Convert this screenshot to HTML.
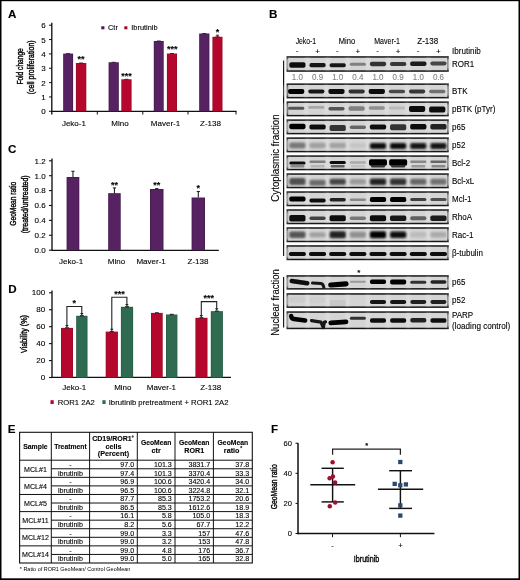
<!DOCTYPE html>
<html><head><meta charset="utf-8"><style>
html,body{margin:0;padding:0;background:#fff;}
#w{position:relative;width:520px;height:580px;overflow:hidden;background:#fff;}
svg{position:absolute;left:0;top:0;will-change:transform;}
svg text{font-family:"Liberation Sans", sans-serif;stroke:#1a1a1a;stroke-width:0.12px;paint-order:stroke;}
</style></head><body><div id="w">
<svg width="520" height="580" viewBox="0 0 520 580">
<rect x="0" y="0" width="520" height="580" fill="#fff"/>
<text x="7.90" y="17.60" font-size="11.6" font-weight="bold" style="fill:#000;stroke:#000">A</text>
<text x="269.00" y="17.90" font-size="11.6" font-weight="bold" style="fill:#000;stroke:#000">B</text>
<text x="7.90" y="153.40" font-size="11.6" font-weight="bold" style="fill:#000;stroke:#000">C</text>
<text x="8.20" y="292.60" font-size="11.6" font-weight="bold" style="fill:#000;stroke:#000">D</text>
<text x="7.70" y="433.10" font-size="11.6" font-weight="bold" style="fill:#000;stroke:#000">E</text>
<text x="270.90" y="432.70" font-size="11.6" font-weight="bold" style="fill:#000;stroke:#000">F</text>
<line x1="51.80" y1="22.80" x2="51.80" y2="114.50" stroke="#111" stroke-width="1.35"/>
<line x1="51.20" y1="111.30" x2="236.50" y2="111.30" stroke="#111" stroke-width="1.35"/>
<line x1="49.00" y1="111.30" x2="52.00" y2="111.30" stroke="#111" stroke-width="1"/>
<text x="45.80" y="114.30" font-size="8" text-anchor="end">0</text>
<line x1="49.00" y1="96.95" x2="52.00" y2="96.95" stroke="#111" stroke-width="1"/>
<text x="45.80" y="99.95" font-size="8" text-anchor="end">1</text>
<line x1="49.00" y1="82.60" x2="52.00" y2="82.60" stroke="#111" stroke-width="1"/>
<text x="45.80" y="85.60" font-size="8" text-anchor="end">2</text>
<line x1="49.00" y1="68.25" x2="52.00" y2="68.25" stroke="#111" stroke-width="1"/>
<text x="45.80" y="71.25" font-size="8" text-anchor="end">3</text>
<line x1="49.00" y1="53.90" x2="52.00" y2="53.90" stroke="#111" stroke-width="1"/>
<text x="45.80" y="56.90" font-size="8" text-anchor="end">4</text>
<line x1="49.00" y1="39.55" x2="52.00" y2="39.55" stroke="#111" stroke-width="1"/>
<text x="45.80" y="42.55" font-size="8" text-anchor="end">5</text>
<line x1="49.00" y1="25.20" x2="52.00" y2="25.20" stroke="#111" stroke-width="1"/>
<text x="45.80" y="28.20" font-size="8" text-anchor="end">6</text>
<line x1="97.30" y1="111.30" x2="97.30" y2="114.50" stroke="#111" stroke-width="1"/>
<line x1="142.80" y1="111.30" x2="142.80" y2="114.50" stroke="#111" stroke-width="1"/>
<line x1="188.00" y1="111.30" x2="188.00" y2="114.50" stroke="#111" stroke-width="1"/>
<line x1="236.00" y1="111.30" x2="236.00" y2="114.50" stroke="#111" stroke-width="1"/>
<rect x="63.20" y="53.60" width="9.90" height="57.70" fill="#44194e"/>
<rect x="63.90" y="54.20" width="8.50" height="57.10" fill="#562262"/>
<rect x="75.90" y="63.00" width="10.40" height="48.30" fill="#941027"/>
<rect x="76.60" y="63.60" width="9.00" height="47.70" fill="#b5062d"/>
<line x1="66.15" y1="53.60" x2="70.15" y2="53.60" stroke="#3a1040" stroke-width="0.9"/>
<line x1="79.10" y1="63.00" x2="83.10" y2="63.00" stroke="#5a0818" stroke-width="0.9"/>
<rect x="108.60" y="62.30" width="10.20" height="49.00" fill="#44194e"/>
<rect x="109.30" y="62.90" width="8.80" height="48.40" fill="#562262"/>
<rect x="121.30" y="79.30" width="10.30" height="32.00" fill="#941027"/>
<rect x="122.00" y="79.90" width="8.90" height="31.40" fill="#b5062d"/>
<line x1="111.70" y1="62.30" x2="115.70" y2="62.30" stroke="#3a1040" stroke-width="0.9"/>
<line x1="124.45" y1="79.30" x2="128.45" y2="79.30" stroke="#5a0818" stroke-width="0.9"/>
<rect x="153.80" y="41.00" width="9.90" height="70.30" fill="#44194e"/>
<rect x="154.50" y="41.60" width="8.50" height="69.70" fill="#562262"/>
<rect x="166.90" y="53.50" width="10.10" height="57.80" fill="#941027"/>
<rect x="167.60" y="54.10" width="8.70" height="57.20" fill="#b5062d"/>
<line x1="156.75" y1="41.00" x2="160.75" y2="41.00" stroke="#3a1040" stroke-width="0.9"/>
<line x1="169.95" y1="53.50" x2="173.95" y2="53.50" stroke="#5a0818" stroke-width="0.9"/>
<rect x="199.20" y="33.50" width="10.20" height="77.80" fill="#44194e"/>
<rect x="199.90" y="34.10" width="8.80" height="77.20" fill="#562262"/>
<rect x="212.40" y="36.80" width="10.10" height="74.50" fill="#941027"/>
<rect x="213.10" y="37.40" width="8.70" height="73.90" fill="#b5062d"/>
<line x1="202.30" y1="33.50" x2="206.30" y2="33.50" stroke="#3a1040" stroke-width="0.9"/>
<line x1="215.45" y1="36.80" x2="219.45" y2="36.80" stroke="#5a0818" stroke-width="0.9"/>
<line x1="217.50" y1="36.80" x2="217.50" y2="35.20" stroke="#333" stroke-width="1"/>
<line x1="215.90" y1="35.20" x2="219.10" y2="35.20" stroke="#333" stroke-width="1"/>
<text x="80.90" y="62.10" font-size="9" text-anchor="middle" font-weight="bold">**</text>
<text x="126.50" y="79.10" font-size="9" text-anchor="middle" font-weight="bold">***</text>
<text x="172.20" y="52.40" font-size="9" text-anchor="middle" font-weight="bold">***</text>
<text x="217.40" y="34.70" font-size="9" text-anchor="middle" font-weight="bold">*</text>
<rect x="101.30" y="26.30" width="3.10" height="3.00" fill="#421a4d"/>
<text x="108.00" y="29.80" font-size="7.6" textLength="9.90" lengthAdjust="spacingAndGlyphs">Ctr</text>
<rect x="124.30" y="26.30" width="3.10" height="3.00" fill="#9a0a28"/>
<text x="131.30" y="29.80" font-size="7.6" textLength="26.30" lengthAdjust="spacingAndGlyphs">Ibrutinib</text>
<text x="73.90" y="126.30" font-size="8" text-anchor="middle">Jeko-1</text>
<text x="120.00" y="126.30" font-size="8" text-anchor="middle">Mino</text>
<text x="165.50" y="126.30" font-size="8" text-anchor="middle">Maver-1</text>
<text x="210.50" y="126.30" font-size="8" text-anchor="middle">Z-138</text>
<text x="22.90" y="66.40" font-size="8.8" text-anchor="middle" textLength="36.40" lengthAdjust="spacingAndGlyphs" transform="rotate(-90 22.90 66.40)" style="stroke-width:0.42px">Fold change</text>
<text x="34.50" y="67.30" font-size="9.0" text-anchor="middle" textLength="54.00" lengthAdjust="spacingAndGlyphs" transform="rotate(-90 34.50 67.30)" style="stroke-width:0.42px">(cell proliferation)</text>
<line x1="52.00" y1="158.40" x2="52.00" y2="250.20" stroke="#111" stroke-width="1.35"/>
<line x1="51.40" y1="250.40" x2="218.80" y2="250.40" stroke="#111" stroke-width="1.35"/>
<line x1="49.00" y1="250.20" x2="52.00" y2="250.20" stroke="#111" stroke-width="1.1"/>
<text x="45.60" y="253.00" font-size="8" text-anchor="end">0.0</text>
<line x1="49.00" y1="235.30" x2="52.00" y2="235.30" stroke="#111" stroke-width="1.1"/>
<text x="45.60" y="238.10" font-size="8" text-anchor="end">0.2</text>
<line x1="49.00" y1="220.40" x2="52.00" y2="220.40" stroke="#111" stroke-width="1.1"/>
<text x="45.60" y="223.20" font-size="8" text-anchor="end">0.4</text>
<line x1="49.00" y1="205.50" x2="52.00" y2="205.50" stroke="#111" stroke-width="1.1"/>
<text x="45.60" y="208.30" font-size="8" text-anchor="end">0.6</text>
<line x1="49.00" y1="190.60" x2="52.00" y2="190.60" stroke="#111" stroke-width="1.1"/>
<text x="45.60" y="193.40" font-size="8" text-anchor="end">0.8</text>
<line x1="49.00" y1="175.70" x2="52.00" y2="175.70" stroke="#111" stroke-width="1.1"/>
<text x="45.60" y="178.50" font-size="8" text-anchor="end">1.0</text>
<line x1="49.00" y1="160.80" x2="52.00" y2="160.80" stroke="#111" stroke-width="1.1"/>
<text x="45.60" y="163.60" font-size="8" text-anchor="end">1.2</text>
<rect x="66.60" y="177.00" width="12.70" height="73.20" fill="#44194e"/>
<rect x="67.30" y="177.60" width="11.30" height="72.60" fill="#562262"/>
<line x1="72.95" y1="177.00" x2="72.95" y2="171.30" stroke="#222" stroke-width="1.1"/>
<line x1="71.35" y1="171.30" x2="74.55" y2="171.30" stroke="#222" stroke-width="1.1"/>
<rect x="108.20" y="193.20" width="12.50" height="57.00" fill="#44194e"/>
<rect x="108.90" y="193.80" width="11.10" height="56.40" fill="#562262"/>
<line x1="114.45" y1="193.20" x2="114.45" y2="187.90" stroke="#222" stroke-width="1.1"/>
<line x1="112.85" y1="187.90" x2="116.05" y2="187.90" stroke="#222" stroke-width="1.1"/>
<rect x="150.00" y="189.00" width="13.50" height="61.20" fill="#44194e"/>
<rect x="150.70" y="189.60" width="12.10" height="60.60" fill="#562262"/>
<line x1="156.75" y1="189.00" x2="156.75" y2="188.60" stroke="#222" stroke-width="1.1"/>
<line x1="155.15" y1="188.60" x2="158.35" y2="188.60" stroke="#222" stroke-width="1.1"/>
<rect x="191.60" y="197.50" width="13.40" height="52.70" fill="#44194e"/>
<rect x="192.30" y="198.10" width="12.00" height="52.10" fill="#562262"/>
<line x1="198.30" y1="197.50" x2="198.30" y2="191.50" stroke="#222" stroke-width="1.1"/>
<line x1="196.70" y1="191.50" x2="199.90" y2="191.50" stroke="#222" stroke-width="1.1"/>
<text x="114.50" y="188.10" font-size="9" text-anchor="middle" font-weight="bold">**</text>
<text x="156.80" y="188.10" font-size="9" text-anchor="middle" font-weight="bold">**</text>
<text x="198.30" y="191.10" font-size="9" text-anchor="middle" font-weight="bold">*</text>
<text x="71.10" y="264.40" font-size="8" text-anchor="middle">Jeko-1</text>
<text x="116.50" y="264.40" font-size="8" text-anchor="middle">Mino</text>
<text x="151.10" y="264.40" font-size="8" text-anchor="middle">Maver-1</text>
<text x="198.00" y="264.40" font-size="8" text-anchor="middle">Z-138</text>
<text x="15.70" y="203.70" font-size="8.8" text-anchor="middle" textLength="44.00" lengthAdjust="spacingAndGlyphs" transform="rotate(-90 15.70 203.70)" style="stroke-width:0.42px">GeoMean ratio</text>
<text x="28.40" y="204.30" font-size="8.6" text-anchor="middle" textLength="58.00" lengthAdjust="spacingAndGlyphs" transform="rotate(-90 28.40 204.30)" style="stroke-width:0.42px">(treated/untreated)</text>
<line x1="52.00" y1="290.50" x2="52.00" y2="377.30" stroke="#111" stroke-width="1.35"/>
<line x1="51.40" y1="377.30" x2="231.00" y2="377.30" stroke="#111" stroke-width="1.35"/>
<line x1="49.00" y1="377.50" x2="52.00" y2="377.50" stroke="#111" stroke-width="1.1"/>
<text x="45.20" y="380.10" font-size="8" text-anchor="end">0</text>
<line x1="49.00" y1="360.56" x2="52.00" y2="360.56" stroke="#111" stroke-width="1.1"/>
<text x="45.20" y="363.16" font-size="8" text-anchor="end">20</text>
<line x1="49.00" y1="343.62" x2="52.00" y2="343.62" stroke="#111" stroke-width="1.1"/>
<text x="45.20" y="346.22" font-size="8" text-anchor="end">40</text>
<line x1="49.00" y1="326.68" x2="52.00" y2="326.68" stroke="#111" stroke-width="1.1"/>
<text x="45.20" y="329.28" font-size="8" text-anchor="end">60</text>
<line x1="49.00" y1="309.74" x2="52.00" y2="309.74" stroke="#111" stroke-width="1.1"/>
<text x="45.20" y="312.34" font-size="8" text-anchor="end">80</text>
<line x1="49.00" y1="292.80" x2="52.00" y2="292.80" stroke="#111" stroke-width="1.1"/>
<text x="45.20" y="295.40" font-size="8" text-anchor="end">100</text>
<rect x="61.00" y="327.90" width="12.00" height="49.60" fill="#941027"/>
<rect x="61.70" y="328.50" width="10.60" height="49.00" fill="#b5062d"/>
<rect x="76.20" y="315.80" width="11.30" height="61.70" fill="#275a43"/>
<rect x="76.90" y="316.40" width="9.90" height="61.10" fill="#2f6b50"/>
<line x1="65.10" y1="327.90" x2="68.90" y2="327.90" stroke="#2a2a2a" stroke-width="1.4"/>
<line x1="79.95" y1="315.80" x2="83.75" y2="315.80" stroke="#2a2a2a" stroke-width="1.4"/>
<rect x="105.70" y="331.60" width="12.20" height="45.90" fill="#941027"/>
<rect x="106.40" y="332.20" width="10.80" height="45.30" fill="#b5062d"/>
<rect x="120.90" y="306.80" width="12.20" height="70.70" fill="#275a43"/>
<rect x="121.60" y="307.40" width="10.80" height="70.10" fill="#2f6b50"/>
<line x1="109.90" y1="331.60" x2="113.70" y2="331.60" stroke="#2a2a2a" stroke-width="1.4"/>
<line x1="125.10" y1="306.80" x2="128.90" y2="306.80" stroke="#2a2a2a" stroke-width="1.4"/>
<rect x="151.00" y="312.90" width="11.70" height="64.60" fill="#941027"/>
<rect x="151.70" y="313.50" width="10.30" height="64.00" fill="#b5062d"/>
<rect x="166.00" y="314.50" width="11.40" height="63.00" fill="#275a43"/>
<rect x="166.70" y="315.10" width="10.00" height="62.40" fill="#2f6b50"/>
<line x1="154.95" y1="312.90" x2="158.75" y2="312.90" stroke="#2a2a2a" stroke-width="1.4"/>
<line x1="169.80" y1="314.50" x2="173.60" y2="314.50" stroke="#2a2a2a" stroke-width="1.4"/>
<rect x="195.40" y="317.80" width="12.10" height="59.70" fill="#941027"/>
<rect x="196.10" y="318.40" width="10.70" height="59.10" fill="#b5062d"/>
<rect x="210.80" y="311.20" width="12.10" height="66.30" fill="#275a43"/>
<rect x="211.50" y="311.80" width="10.70" height="65.70" fill="#2f6b50"/>
<line x1="199.55" y1="317.80" x2="203.35" y2="317.80" stroke="#2a2a2a" stroke-width="1.4"/>
<line x1="214.95" y1="311.20" x2="218.75" y2="311.20" stroke="#2a2a2a" stroke-width="1.4"/>
<path d="M66.90 325.70 V306.50 H81.80 V313.60" fill="none" stroke="#222" stroke-width="1.1"/>
<path d="M80.10 312.90 L83.50 312.90 L81.80 315.40 Z" fill="#222"/>
<path d="M65.20 325.00 L68.60 325.00 L66.90 327.50 Z" fill="#222"/>
<path d="M111.80 329.40 V297.20 H126.90 V304.60" fill="none" stroke="#222" stroke-width="1.1"/>
<path d="M125.20 303.90 L128.60 303.90 L126.90 306.40 Z" fill="#222"/>
<path d="M110.10 328.70 L113.50 328.70 L111.80 331.20 Z" fill="#222"/>
<path d="M201.30 315.60 V301.60 H216.70 V309.00" fill="none" stroke="#222" stroke-width="1.1"/>
<path d="M215.00 308.30 L218.40 308.30 L216.70 310.80 Z" fill="#222"/>
<path d="M199.60 314.90 L203.00 314.90 L201.30 317.40 Z" fill="#222"/>
<text x="74.30" y="305.90" font-size="9" text-anchor="middle" font-weight="bold">*</text>
<text x="119.40" y="296.50" font-size="9" text-anchor="middle" font-weight="bold">***</text>
<text x="208.80" y="300.90" font-size="9" text-anchor="middle" font-weight="bold">***</text>
<text x="74.30" y="389.70" font-size="8" text-anchor="middle">Jeko-1</text>
<text x="122.80" y="389.70" font-size="8" text-anchor="middle">Mino</text>
<text x="161.40" y="389.70" font-size="8" text-anchor="middle">Maver-1</text>
<text x="210.70" y="389.70" font-size="8" text-anchor="middle">Z-138</text>
<rect x="50.50" y="400.20" width="3.20" height="3.80" fill="#b5062d"/>
<text x="57.70" y="404.50" font-size="8" textLength="37.10" lengthAdjust="spacingAndGlyphs">ROR1 2A2</text>
<rect x="102.40" y="400.20" width="3.20" height="3.80" fill="#2f6b50"/>
<text x="108.70" y="404.50" font-size="8" textLength="119.80" lengthAdjust="spacingAndGlyphs">Ibrutinib pretreatment + ROR1 2A2</text>
<text x="26.60" y="334.00" font-size="8.8" text-anchor="middle" textLength="38.00" lengthAdjust="spacingAndGlyphs" transform="rotate(-90 26.60 334.00)" style="stroke-width:0.42px">Viability (%)</text>
<text x="305.90" y="44.00" font-size="8.5" text-anchor="middle" textLength="20.40" lengthAdjust="spacingAndGlyphs">Jeko-1</text>
<text x="347.00" y="44.00" font-size="8.5" text-anchor="middle" textLength="16.40" lengthAdjust="spacingAndGlyphs">Mino</text>
<text x="387.10" y="44.00" font-size="8.5" text-anchor="middle" textLength="25.80" lengthAdjust="spacingAndGlyphs">Maver-1</text>
<text x="427.70" y="44.00" font-size="8.5" text-anchor="middle" textLength="20.80" lengthAdjust="spacingAndGlyphs">Z-138</text>
<text x="297.10" y="52.90" font-size="8" text-anchor="middle">-</text>
<text x="317.55" y="54.40" font-size="8" text-anchor="middle">+</text>
<text x="337.40" y="52.90" font-size="8" text-anchor="middle">-</text>
<text x="357.85" y="54.40" font-size="8" text-anchor="middle">+</text>
<text x="377.70" y="52.90" font-size="8" text-anchor="middle">-</text>
<text x="398.15" y="54.40" font-size="8" text-anchor="middle">+</text>
<text x="418.00" y="52.90" font-size="8" text-anchor="middle">-</text>
<text x="438.45" y="54.40" font-size="8" text-anchor="middle">+</text>
<text x="452.00" y="53.60" font-size="8.8" textLength="28.80" lengthAdjust="spacingAndGlyphs">Ibrutinib</text>
<line x1="283.60" y1="60.40" x2="283.60" y2="256.00" stroke="#111" stroke-width="1.2"/>
<line x1="283.60" y1="277.00" x2="283.60" y2="327.40" stroke="#111" stroke-width="1.2"/>
<text x="279.00" y="158.00" font-size="10.3" text-anchor="middle" textLength="87.30" lengthAdjust="spacingAndGlyphs" transform="rotate(-90 279.00 158.00)">Cytoplasmic fraction</text>
<text x="278.60" y="302.50" font-size="10.1" text-anchor="middle" textLength="66.50" lengthAdjust="spacingAndGlyphs" transform="rotate(-90 278.60 302.50)">Nuclear fraction</text>
<defs><filter id="bl" x="-30%" y="-150%" width="160%" height="400%"><feGaussianBlur stdDeviation="0.75 0.55"/></filter><filter id="bl2" x="-50%" y="-150%" width="200%" height="400%"><feGaussianBlur stdDeviation="1.6 1.2"/></filter><filter id="bl3" x="-30%" y="-150%" width="160%" height="400%"><feGaussianBlur stdDeviation="1.1 1.0"/></filter></defs>
<rect x="286.50" y="56.20" width="162.30" height="15.60" fill="#161616"/>
<rect x="288.20" y="57.70" width="158.90" height="12.60" fill="#d4d4d4"/>
<g filter="url(#bl2)">
<rect x="285.83" y="58.20" width="3.00" height="11.60" fill="#e0e0e0"/>
<rect x="305.98" y="58.20" width="3.00" height="11.60" fill="#e0e0e0"/>
<rect x="326.13" y="58.20" width="3.00" height="11.60" fill="#e0e0e0"/>
<rect x="346.28" y="58.20" width="3.00" height="11.60" fill="#e0e0e0"/>
<rect x="366.43" y="58.20" width="3.00" height="11.60" fill="#e0e0e0"/>
<rect x="386.58" y="58.20" width="3.00" height="11.60" fill="#e0e0e0"/>
<rect x="406.73" y="58.20" width="3.00" height="11.60" fill="#e0e0e0"/>
<rect x="426.88" y="58.20" width="3.00" height="11.60" fill="#e0e0e0"/>
<rect x="447.03" y="58.20" width="3.00" height="11.60" fill="#e0e0e0"/>
</g>
<g filter="url(#bl)">
<rect x="289.30" y="62.25" width="16.20" height="5.50" rx="1.80" fill="#101010"/>
<rect x="309.45" y="63.10" width="16.20" height="4.20" rx="1.80" fill="#141414"/>
<rect x="329.60" y="63.30" width="16.20" height="4.00" rx="1.80" fill="#181818"/>
<rect x="349.75" y="62.80" width="16.20" height="3.00" rx="1.50" fill="#808080"/>
<rect x="369.90" y="61.65" width="16.20" height="4.50" rx="1.80" fill="#303030"/>
<rect x="390.05" y="62.00" width="16.20" height="4.00" rx="1.80" fill="#383838"/>
<rect x="410.20" y="61.55" width="16.20" height="4.50" rx="1.80" fill="#1a1a1a"/>
<rect x="430.35" y="61.40" width="16.20" height="4.00" rx="1.80" fill="#444444"/>
</g>
<rect x="286.50" y="83.40" width="162.30" height="15.00" fill="#161616"/>
<rect x="288.20" y="84.90" width="158.90" height="12.00" fill="#d4d4d4"/>
<g filter="url(#bl2)">
<rect x="284.63" y="85.40" width="3.00" height="11.00" fill="#e0e0e0"/>
<rect x="304.78" y="85.40" width="3.00" height="11.00" fill="#e0e0e0"/>
<rect x="324.93" y="85.40" width="3.00" height="11.00" fill="#e0e0e0"/>
<rect x="345.08" y="85.40" width="3.00" height="11.00" fill="#e0e0e0"/>
<rect x="365.23" y="85.40" width="3.00" height="11.00" fill="#e0e0e0"/>
<rect x="385.38" y="85.40" width="3.00" height="11.00" fill="#e0e0e0"/>
<rect x="405.53" y="85.40" width="3.00" height="11.00" fill="#e0e0e0"/>
<rect x="425.68" y="85.40" width="3.00" height="11.00" fill="#e0e0e0"/>
<rect x="445.83" y="85.40" width="3.00" height="11.00" fill="#e0e0e0"/>
</g>
<g filter="url(#bl)">
<rect x="288.10" y="88.90" width="16.20" height="5.00" rx="1.80" fill="#050505"/>
<rect x="308.25" y="89.40" width="16.20" height="4.00" rx="1.80" fill="#181818"/>
<rect x="328.40" y="88.90" width="16.20" height="5.00" rx="1.80" fill="#101010"/>
<rect x="348.55" y="89.40" width="16.20" height="4.00" rx="1.80" fill="#303030"/>
<rect x="368.70" y="88.90" width="16.20" height="5.00" rx="1.80" fill="#080808"/>
<rect x="388.85" y="89.65" width="16.20" height="3.50" rx="1.75" fill="#484848"/>
<rect x="409.00" y="89.40" width="16.20" height="4.00" rx="1.80" fill="#383838"/>
<rect x="429.15" y="89.65" width="16.20" height="3.50" rx="1.75" fill="#707070"/>
</g>
<rect x="286.50" y="101.38" width="162.30" height="15.00" fill="#161616"/>
<rect x="288.20" y="102.88" width="158.90" height="12.00" fill="#d4d4d4"/>
<g filter="url(#bl2)">
<rect x="284.63" y="103.38" width="3.00" height="11.00" fill="#e0e0e0"/>
<rect x="304.78" y="103.38" width="3.00" height="11.00" fill="#e0e0e0"/>
<rect x="324.93" y="103.38" width="3.00" height="11.00" fill="#e0e0e0"/>
<rect x="345.08" y="103.38" width="3.00" height="11.00" fill="#e0e0e0"/>
<rect x="365.23" y="103.38" width="3.00" height="11.00" fill="#e0e0e0"/>
<rect x="385.38" y="103.38" width="3.00" height="11.00" fill="#e0e0e0"/>
<rect x="405.53" y="103.38" width="3.00" height="11.00" fill="#e0e0e0"/>
<rect x="425.68" y="103.38" width="3.00" height="11.00" fill="#e0e0e0"/>
<rect x="445.83" y="103.38" width="3.00" height="11.00" fill="#e0e0e0"/>
</g>
<g filter="url(#bl)">
<rect x="288.10" y="106.80" width="16.20" height="3.00" rx="1.50" fill="#555555"/>
<rect x="308.25" y="106.00" width="16.20" height="2.80" rx="1.40" fill="#a8a8a8"/>
<rect x="328.40" y="107.05" width="16.20" height="3.50" rx="1.75" fill="#555555"/>
<rect x="348.55" y="106.25" width="16.20" height="4.50" rx="1.80" fill="#808080"/>
<rect x="368.70" y="106.25" width="16.20" height="3.50" rx="1.75" fill="#909090"/>
<rect x="388.85" y="106.50" width="16.20" height="3.00" rx="1.50" fill="#bbbbbb"/>
<rect x="409.00" y="105.90" width="16.20" height="6.00" rx="1.80" fill="#0c0c0c"/>
<rect x="429.15" y="106.60" width="16.20" height="6.00" rx="1.80" fill="#101010"/>
</g>
<rect x="286.50" y="119.36" width="162.30" height="15.00" fill="#161616"/>
<rect x="288.20" y="120.86" width="158.90" height="12.00" fill="#d4d4d4"/>
<g filter="url(#bl2)">
<rect x="285.83" y="121.36" width="3.00" height="11.00" fill="#e0e0e0"/>
<rect x="305.98" y="121.36" width="3.00" height="11.00" fill="#e0e0e0"/>
<rect x="326.13" y="121.36" width="3.00" height="11.00" fill="#e0e0e0"/>
<rect x="346.28" y="121.36" width="3.00" height="11.00" fill="#e0e0e0"/>
<rect x="366.43" y="121.36" width="3.00" height="11.00" fill="#e0e0e0"/>
<rect x="386.58" y="121.36" width="3.00" height="11.00" fill="#e0e0e0"/>
<rect x="406.73" y="121.36" width="3.00" height="11.00" fill="#e0e0e0"/>
<rect x="426.88" y="121.36" width="3.00" height="11.00" fill="#e0e0e0"/>
<rect x="447.03" y="121.36" width="3.00" height="11.00" fill="#e0e0e0"/>
</g>
<g filter="url(#bl)">
<rect x="289.30" y="123.65" width="16.20" height="5.50" rx="1.80" fill="#000000"/>
<rect x="309.45" y="124.50" width="16.20" height="5.00" rx="1.80" fill="#101010"/>
<rect x="329.60" y="125.00" width="16.20" height="6.00" rx="1.80" fill="#303030"/>
<rect x="349.75" y="125.45" width="16.20" height="3.50" rx="1.75" fill="#666666"/>
<rect x="369.90" y="124.50" width="16.20" height="5.00" rx="1.80" fill="#101010"/>
<rect x="390.05" y="124.30" width="16.20" height="6.00" rx="1.80" fill="#303030"/>
<rect x="410.20" y="123.95" width="16.20" height="5.50" rx="1.80" fill="#101010"/>
<rect x="430.35" y="124.05" width="16.20" height="5.50" rx="1.80" fill="#202020"/>
</g>
<rect x="286.50" y="137.34" width="162.30" height="15.00" fill="#161616"/>
<rect x="288.20" y="138.84" width="158.90" height="12.00" fill="#d4d4d4"/>
<g filter="url(#bl2)">
<rect x="285.83" y="139.34" width="3.00" height="11.00" fill="#e0e0e0"/>
<rect x="305.98" y="139.34" width="3.00" height="11.00" fill="#e0e0e0"/>
<rect x="326.13" y="139.34" width="3.00" height="11.00" fill="#e0e0e0"/>
<rect x="346.28" y="139.34" width="3.00" height="11.00" fill="#e0e0e0"/>
<rect x="366.43" y="139.34" width="3.00" height="11.00" fill="#e0e0e0"/>
<rect x="386.58" y="139.34" width="3.00" height="11.00" fill="#e0e0e0"/>
<rect x="406.73" y="139.34" width="3.00" height="11.00" fill="#e0e0e0"/>
<rect x="426.88" y="139.34" width="3.00" height="11.00" fill="#e0e0e0"/>
<rect x="447.03" y="139.34" width="3.00" height="11.00" fill="#e0e0e0"/>
</g>
<g filter="url(#bl3)">
<rect x="289.30" y="142.50" width="16.20" height="6.00" rx="1.80" fill="#787878"/>
<rect x="309.45" y="142.75" width="16.20" height="5.50" rx="1.80" fill="#a0a0a0"/>
<rect x="329.60" y="142.75" width="16.20" height="5.50" rx="1.80" fill="#a2a2a2"/>
<rect x="349.75" y="143.25" width="16.20" height="4.50" rx="1.80" fill="#c4c4c4"/>
<rect x="369.90" y="143.00" width="16.20" height="6.00" rx="1.80" fill="#101010"/>
<rect x="390.05" y="143.00" width="16.20" height="6.00" rx="1.80" fill="#101010"/>
<rect x="410.20" y="143.00" width="16.20" height="6.00" rx="1.80" fill="#141414"/>
<rect x="430.35" y="143.00" width="16.20" height="6.00" rx="1.80" fill="#181818"/>
</g>
<rect x="286.50" y="155.32" width="162.30" height="15.00" fill="#161616"/>
<rect x="288.20" y="156.82" width="158.90" height="12.00" fill="#d4d4d4"/>
<g filter="url(#bl2)">
<rect x="285.83" y="157.32" width="3.00" height="11.00" fill="#e0e0e0"/>
<rect x="305.98" y="157.32" width="3.00" height="11.00" fill="#e0e0e0"/>
<rect x="326.13" y="157.32" width="3.00" height="11.00" fill="#e0e0e0"/>
<rect x="346.28" y="157.32" width="3.00" height="11.00" fill="#e0e0e0"/>
<rect x="366.43" y="157.32" width="3.00" height="11.00" fill="#e0e0e0"/>
<rect x="386.58" y="157.32" width="3.00" height="11.00" fill="#e0e0e0"/>
<rect x="406.73" y="157.32" width="3.00" height="11.00" fill="#e0e0e0"/>
<rect x="426.88" y="157.32" width="3.00" height="11.00" fill="#e0e0e0"/>
<rect x="447.03" y="157.32" width="3.00" height="11.00" fill="#e0e0e0"/>
</g>
<g filter="url(#bl)">
<rect x="289.30" y="161.50" width="16.20" height="3.00" rx="1.50" fill="#101010"/>
<rect x="309.45" y="160.55" width="16.20" height="2.50" rx="1.25" fill="#808080"/>
<rect x="329.60" y="160.90" width="16.20" height="3.00" rx="1.50" fill="#101010"/>
<rect x="349.75" y="161.25" width="16.20" height="2.50" rx="1.25" fill="#aaaaaa"/>
<rect x="369.00" y="159.35" width="18.00" height="6.50" rx="1.80" fill="#000000"/>
<rect x="389.15" y="159.35" width="18.00" height="6.50" rx="1.80" fill="#000000"/>
<rect x="410.20" y="160.55" width="16.20" height="2.50" rx="1.25" fill="#888888"/>
<rect x="430.35" y="160.55" width="16.20" height="2.50" rx="1.25" fill="#666666"/>
<rect x="290.40" y="164.90" width="14" height="2.6" rx="1.2" fill="#888888"/><rect x="310.55" y="164.90" width="14" height="2.6" rx="1.2" fill="#b4b4b4"/><rect x="330.70" y="164.90" width="14" height="2.6" rx="1.2" fill="#606060"/><rect x="350.85" y="164.90" width="14" height="2.6" rx="1.2" fill="#c2c2c2"/><rect x="371.00" y="164.90" width="14" height="2.6" rx="1.2" fill="#303030"/><rect x="391.15" y="164.90" width="14" height="2.6" rx="1.2" fill="#303030"/><rect x="411.30" y="164.90" width="14" height="2.6" rx="1.2" fill="#999999"/><rect x="431.45" y="164.90" width="14" height="2.6" rx="1.2" fill="#888888"/>
</g>
<rect x="286.50" y="173.30" width="162.30" height="15.00" fill="#161616"/>
<rect x="288.20" y="174.80" width="158.90" height="12.00" fill="#d4d4d4"/>
<g filter="url(#bl2)">
<rect x="285.83" y="175.30" width="3.00" height="11.00" fill="#e0e0e0"/>
<rect x="305.98" y="175.30" width="3.00" height="11.00" fill="#e0e0e0"/>
<rect x="326.13" y="175.30" width="3.00" height="11.00" fill="#e0e0e0"/>
<rect x="346.28" y="175.30" width="3.00" height="11.00" fill="#e0e0e0"/>
<rect x="366.43" y="175.30" width="3.00" height="11.00" fill="#e0e0e0"/>
<rect x="386.58" y="175.30" width="3.00" height="11.00" fill="#e0e0e0"/>
<rect x="406.73" y="175.30" width="3.00" height="11.00" fill="#e0e0e0"/>
<rect x="426.88" y="175.30" width="3.00" height="11.00" fill="#e0e0e0"/>
<rect x="447.03" y="175.30" width="3.00" height="11.00" fill="#e0e0e0"/>
</g>
<g filter="url(#bl3)">
<rect x="289.30" y="178.00" width="16.20" height="7.00" rx="1.80" fill="#505050"/>
<rect x="309.45" y="179.70" width="16.20" height="6.00" rx="1.80" fill="#6a6a6a"/>
<rect x="329.60" y="178.80" width="16.20" height="6.00" rx="1.80" fill="#444444"/>
<rect x="349.75" y="179.05" width="16.20" height="5.50" rx="1.80" fill="#999999"/>
<rect x="369.90" y="178.55" width="16.20" height="6.50" rx="1.80" fill="#222222"/>
<rect x="390.05" y="178.55" width="16.20" height="6.50" rx="1.80" fill="#303030"/>
<rect x="410.20" y="178.80" width="16.20" height="6.00" rx="1.80" fill="#666666"/>
<rect x="430.35" y="178.80" width="16.20" height="6.00" rx="1.80" fill="#707070"/>
</g>
<rect x="286.50" y="191.28" width="162.30" height="15.00" fill="#161616"/>
<rect x="288.20" y="192.78" width="158.90" height="12.00" fill="#d4d4d4"/>
<g filter="url(#bl2)">
<rect x="285.83" y="193.28" width="3.00" height="11.00" fill="#e0e0e0"/>
<rect x="305.98" y="193.28" width="3.00" height="11.00" fill="#e0e0e0"/>
<rect x="326.13" y="193.28" width="3.00" height="11.00" fill="#e0e0e0"/>
<rect x="346.28" y="193.28" width="3.00" height="11.00" fill="#e0e0e0"/>
<rect x="366.43" y="193.28" width="3.00" height="11.00" fill="#e0e0e0"/>
<rect x="386.58" y="193.28" width="3.00" height="11.00" fill="#e0e0e0"/>
<rect x="406.73" y="193.28" width="3.00" height="11.00" fill="#e0e0e0"/>
<rect x="426.88" y="193.28" width="3.00" height="11.00" fill="#e0e0e0"/>
<rect x="447.03" y="193.28" width="3.00" height="11.00" fill="#e0e0e0"/>
</g>
<g filter="url(#bl)">
<rect x="289.30" y="196.50" width="16.20" height="5.00" rx="1.80" fill="#000000"/>
<rect x="309.45" y="198.50" width="16.20" height="4.00" rx="1.80" fill="#101010"/>
<rect x="329.60" y="197.95" width="16.20" height="3.50" rx="1.75" fill="#202020"/>
<rect x="349.75" y="198.45" width="16.20" height="2.50" rx="1.25" fill="#888888"/>
<rect x="369.90" y="197.10" width="16.20" height="5.00" rx="1.80" fill="#000000"/>
<rect x="390.05" y="197.10" width="16.20" height="5.00" rx="1.80" fill="#000000"/>
<rect x="410.20" y="198.10" width="16.20" height="3.00" rx="1.50" fill="#404040"/>
<rect x="430.35" y="198.10" width="16.20" height="3.00" rx="1.50" fill="#505050"/>
</g>
<rect x="286.50" y="209.26" width="162.30" height="15.00" fill="#161616"/>
<rect x="288.20" y="210.76" width="158.90" height="12.00" fill="#d4d4d4"/>
<g filter="url(#bl2)">
<rect x="285.83" y="211.26" width="3.00" height="11.00" fill="#e0e0e0"/>
<rect x="305.98" y="211.26" width="3.00" height="11.00" fill="#e0e0e0"/>
<rect x="326.13" y="211.26" width="3.00" height="11.00" fill="#e0e0e0"/>
<rect x="346.28" y="211.26" width="3.00" height="11.00" fill="#e0e0e0"/>
<rect x="366.43" y="211.26" width="3.00" height="11.00" fill="#e0e0e0"/>
<rect x="386.58" y="211.26" width="3.00" height="11.00" fill="#e0e0e0"/>
<rect x="406.73" y="211.26" width="3.00" height="11.00" fill="#e0e0e0"/>
<rect x="426.88" y="211.26" width="3.00" height="11.00" fill="#e0e0e0"/>
<rect x="447.03" y="211.26" width="3.00" height="11.00" fill="#e0e0e0"/>
</g>
<g filter="url(#bl)">
<rect x="289.30" y="214.95" width="16.20" height="6.50" rx="1.80" fill="#101010"/>
<rect x="309.45" y="216.45" width="16.20" height="3.50" rx="1.75" fill="#404040"/>
<rect x="329.60" y="215.20" width="16.20" height="6.00" rx="1.80" fill="#101010"/>
<rect x="349.75" y="216.45" width="16.20" height="3.50" rx="1.75" fill="#777777"/>
<rect x="369.90" y="215.20" width="16.20" height="6.00" rx="1.80" fill="#0c0c0c"/>
<rect x="390.05" y="215.45" width="16.20" height="5.50" rx="1.80" fill="#121212"/>
<rect x="410.20" y="216.20" width="16.20" height="4.00" rx="1.80" fill="#606060"/>
<rect x="430.35" y="215.45" width="16.20" height="5.50" rx="1.80" fill="#1c1c1c"/>
</g>
<rect x="286.50" y="227.24" width="162.30" height="15.00" fill="#161616"/>
<rect x="288.20" y="228.74" width="158.90" height="12.00" fill="#d4d4d4"/>
<g filter="url(#bl2)">
<rect x="285.83" y="229.24" width="3.00" height="11.00" fill="#e0e0e0"/>
<rect x="305.98" y="229.24" width="3.00" height="11.00" fill="#e0e0e0"/>
<rect x="326.13" y="229.24" width="3.00" height="11.00" fill="#e0e0e0"/>
<rect x="346.28" y="229.24" width="3.00" height="11.00" fill="#e0e0e0"/>
<rect x="366.43" y="229.24" width="3.00" height="11.00" fill="#e0e0e0"/>
<rect x="386.58" y="229.24" width="3.00" height="11.00" fill="#e0e0e0"/>
<rect x="406.73" y="229.24" width="3.00" height="11.00" fill="#e0e0e0"/>
<rect x="426.88" y="229.24" width="3.00" height="11.00" fill="#e0e0e0"/>
<rect x="447.03" y="229.24" width="3.00" height="11.00" fill="#e0e0e0"/>
</g>
<g filter="url(#bl3)">
<rect x="289.30" y="231.45" width="16.20" height="6.50" rx="1.80" fill="#555555"/>
<rect x="309.45" y="232.20" width="16.20" height="5.00" rx="1.80" fill="#a0a0a0"/>
<rect x="329.60" y="231.20" width="16.20" height="7.00" rx="1.80" fill="#222222"/>
<rect x="349.75" y="231.70" width="16.20" height="6.00" rx="1.80" fill="#909090"/>
<rect x="369.90" y="231.20" width="16.20" height="7.00" rx="1.80" fill="#000000"/>
<rect x="390.05" y="231.45" width="16.20" height="6.50" rx="1.80" fill="#0c0c0c"/>
<rect x="410.20" y="231.95" width="16.20" height="5.50" rx="1.80" fill="#bbbbbb"/>
<rect x="430.35" y="231.95" width="16.20" height="5.50" rx="1.80" fill="#aaaaaa"/>
</g>
<rect x="286.50" y="245.22" width="162.30" height="15.00" fill="#161616"/>
<rect x="288.20" y="246.72" width="158.90" height="12.00" fill="#d4d4d4"/>
<g filter="url(#bl2)">
<rect x="285.83" y="247.22" width="3.00" height="11.00" fill="#e0e0e0"/>
<rect x="305.98" y="247.22" width="3.00" height="11.00" fill="#e0e0e0"/>
<rect x="326.13" y="247.22" width="3.00" height="11.00" fill="#e0e0e0"/>
<rect x="346.28" y="247.22" width="3.00" height="11.00" fill="#e0e0e0"/>
<rect x="366.43" y="247.22" width="3.00" height="11.00" fill="#e0e0e0"/>
<rect x="386.58" y="247.22" width="3.00" height="11.00" fill="#e0e0e0"/>
<rect x="406.73" y="247.22" width="3.00" height="11.00" fill="#e0e0e0"/>
<rect x="426.88" y="247.22" width="3.00" height="11.00" fill="#e0e0e0"/>
<rect x="447.03" y="247.22" width="3.00" height="11.00" fill="#e0e0e0"/>
</g>
<g filter="url(#bl)">
<rect x="288.90" y="252.00" width="17.00" height="4.00" rx="1.80" fill="#101010"/>
<rect x="309.05" y="252.00" width="17.00" height="4.00" rx="1.80" fill="#101010"/>
<rect x="329.20" y="252.00" width="17.00" height="4.00" rx="1.80" fill="#101010"/>
<rect x="349.35" y="252.00" width="17.00" height="4.00" rx="1.80" fill="#101010"/>
<rect x="369.50" y="252.00" width="17.00" height="4.00" rx="1.80" fill="#101010"/>
<rect x="389.65" y="252.00" width="17.00" height="4.00" rx="1.80" fill="#101010"/>
<rect x="409.80" y="252.00" width="17.00" height="4.00" rx="1.80" fill="#101010"/>
<rect x="429.95" y="252.00" width="17.00" height="4.00" rx="1.80" fill="#101010"/>
</g>
<rect x="286.50" y="275.20" width="162.30" height="14.40" fill="#161616"/>
<rect x="288.20" y="276.70" width="158.90" height="11.40" fill="#d4d4d4"/>
<g filter="url(#bl2)">
<rect x="285.83" y="277.20" width="3.00" height="10.40" fill="#e0e0e0"/>
<rect x="305.98" y="277.20" width="3.00" height="10.40" fill="#e0e0e0"/>
<rect x="326.13" y="277.20" width="3.00" height="10.40" fill="#e0e0e0"/>
<rect x="346.28" y="277.20" width="3.00" height="10.40" fill="#e0e0e0"/>
<rect x="366.43" y="277.20" width="3.00" height="10.40" fill="#e0e0e0"/>
<rect x="386.58" y="277.20" width="3.00" height="10.40" fill="#e0e0e0"/>
<rect x="406.73" y="277.20" width="3.00" height="10.40" fill="#e0e0e0"/>
<rect x="426.88" y="277.20" width="3.00" height="10.40" fill="#e0e0e0"/>
<rect x="447.03" y="277.20" width="3.00" height="10.40" fill="#e0e0e0"/>
</g>
<g filter="url(#bl)">
<rect x="349.85" y="280.80" width="16.00" height="2.00" rx="1.00" fill="#999999"/>
<rect x="370.00" y="279.55" width="16.00" height="4.50" rx="1.80" fill="#000000"/>
<rect x="390.15" y="279.50" width="16.00" height="5.00" rx="1.80" fill="#000000"/>
<rect x="410.30" y="280.80" width="16.00" height="3.00" rx="1.50" fill="#303030"/>
<rect x="430.45" y="280.25" width="16.00" height="3.50" rx="1.75" fill="#202020"/>
<path d="M291.8 281.0 L307.2 283.2" stroke="#0a0a0a" stroke-width="4.6" stroke-linecap="round" fill="none"/><path d="M312.5 283.0 L321 283.6 Q323.2 284 323.8 287.2" stroke="#161616" stroke-width="3" stroke-linecap="round" fill="none"/><path d="M330.8 285.0 L346 283.8" stroke="#000" stroke-width="5.2" stroke-linecap="round" fill="none"/>
</g>
<rect x="286.50" y="293.20" width="162.30" height="14.70" fill="#161616"/>
<rect x="288.20" y="294.70" width="158.90" height="11.70" fill="#d4d4d4"/>
<g filter="url(#bl2)">
<rect x="285.83" y="295.20" width="3.00" height="10.70" fill="#e0e0e0"/>
<rect x="305.98" y="295.20" width="3.00" height="10.70" fill="#e0e0e0"/>
<rect x="326.13" y="295.20" width="3.00" height="10.70" fill="#e0e0e0"/>
<rect x="346.28" y="295.20" width="3.00" height="10.70" fill="#e0e0e0"/>
<rect x="366.43" y="295.20" width="3.00" height="10.70" fill="#e0e0e0"/>
<rect x="386.58" y="295.20" width="3.00" height="10.70" fill="#e0e0e0"/>
<rect x="406.73" y="295.20" width="3.00" height="10.70" fill="#e0e0e0"/>
<rect x="426.88" y="295.20" width="3.00" height="10.70" fill="#e0e0e0"/>
<rect x="447.03" y="295.20" width="3.00" height="10.70" fill="#e0e0e0"/>
</g>
<g filter="url(#bl)">
<rect x="289.40" y="296.50" width="16.00" height="6.00" rx="1.80" fill="#cccccc"/>
<rect x="309.55" y="297.00" width="16.00" height="6.00" rx="1.80" fill="#cfcfcf"/>
<rect x="329.70" y="300.00" width="16.00" height="6.00" rx="1.80" fill="#c8c8c8"/>
<rect x="370.00" y="299.90" width="16.00" height="4.20" rx="1.80" fill="#151515"/>
<rect x="390.15" y="299.90" width="16.00" height="4.20" rx="1.80" fill="#151515"/>
<rect x="410.30" y="300.10" width="16.00" height="3.80" rx="1.80" fill="#222222"/>
<rect x="430.45" y="300.10" width="16.00" height="3.80" rx="1.80" fill="#222222"/>
</g>
<rect x="286.50" y="311.30" width="162.30" height="17.90" fill="#161616"/>
<rect x="288.20" y="312.80" width="158.90" height="14.90" fill="#d4d4d4"/>
<g filter="url(#bl2)">
<rect x="285.83" y="313.30" width="3.00" height="13.90" fill="#e0e0e0"/>
<rect x="305.98" y="313.30" width="3.00" height="13.90" fill="#e0e0e0"/>
<rect x="326.13" y="313.30" width="3.00" height="13.90" fill="#e0e0e0"/>
<rect x="346.28" y="313.30" width="3.00" height="13.90" fill="#e0e0e0"/>
<rect x="366.43" y="313.30" width="3.00" height="13.90" fill="#e0e0e0"/>
<rect x="386.58" y="313.30" width="3.00" height="13.90" fill="#e0e0e0"/>
<rect x="406.73" y="313.30" width="3.00" height="13.90" fill="#e0e0e0"/>
<rect x="426.88" y="313.30" width="3.00" height="13.90" fill="#e0e0e0"/>
<rect x="447.03" y="313.30" width="3.00" height="13.90" fill="#e0e0e0"/>
</g>
<g filter="url(#bl)">
<rect x="349.85" y="316.80" width="16.00" height="3.00" rx="1.50" fill="#303030"/>
<rect x="370.00" y="318.25" width="16.00" height="4.50" rx="1.80" fill="#101010"/>
<rect x="390.15" y="318.25" width="16.00" height="4.50" rx="1.80" fill="#101010"/>
<rect x="410.30" y="317.95" width="16.00" height="4.50" rx="1.80" fill="#222222"/>
<rect x="430.45" y="318.25" width="16.00" height="4.50" rx="1.80" fill="#101010"/>
<path d="M291.2 316.0 Q291.5 318.6 294 318.9 L305.2 320.4" stroke="#050505" stroke-width="4.5" stroke-linecap="round" fill="none"/><path d="M311.5 320.6 L321 322.2 L323.3 327.6 L324.3 322.3 L325.5 321.8" stroke="#121212" stroke-width="3.2" stroke-linecap="round" stroke-linejoin="round" fill="none"/><path d="M330.8 322.9 L346 321.9" stroke="#000" stroke-width="4.8" stroke-linecap="round" fill="none"/>
</g>
<text x="452.00" y="66.90" font-size="8.8" textLength="22.23" lengthAdjust="spacingAndGlyphs">ROR1</text>
<text x="452.00" y="93.80" font-size="8.8" textLength="15.56" lengthAdjust="spacingAndGlyphs">BTK</text>
<text x="452.00" y="111.80" font-size="8.8" textLength="43.50" lengthAdjust="spacingAndGlyphs">pBTK (pTyr)</text>
<text x="452.00" y="129.75" font-size="8.8" textLength="13.35" lengthAdjust="spacingAndGlyphs">p65</text>
<text x="452.00" y="147.70" font-size="8.8" textLength="13.35" lengthAdjust="spacingAndGlyphs">p52</text>
<text x="452.00" y="165.70" font-size="8.8" textLength="18.23" lengthAdjust="spacingAndGlyphs">Bcl-2</text>
<text x="452.00" y="183.65" font-size="8.8" textLength="22.23" lengthAdjust="spacingAndGlyphs">Bcl-xL</text>
<text x="452.00" y="201.60" font-size="8.8" textLength="19.55" lengthAdjust="spacingAndGlyphs">Mcl-1</text>
<text x="452.00" y="219.60" font-size="8.8" textLength="20.00" lengthAdjust="spacingAndGlyphs">RhoA</text>
<text x="452.00" y="237.60" font-size="8.8" textLength="21.34" lengthAdjust="spacingAndGlyphs">Rac-1</text>
<text x="452.00" y="255.60" font-size="8.8" textLength="30.84" lengthAdjust="spacingAndGlyphs">β-tubulin</text>
<text x="452.00" y="285.30" font-size="8.8" textLength="13.35" lengthAdjust="spacingAndGlyphs">p65</text>
<text x="452.00" y="303.45" font-size="8.8" textLength="13.35" lengthAdjust="spacingAndGlyphs">p52</text>
<text x="452.00" y="318.40" font-size="8.8" textLength="21.20" lengthAdjust="spacingAndGlyphs">PARP</text>
<text x="452.00" y="329.20" font-size="8.8" textLength="58.30" lengthAdjust="spacingAndGlyphs">(loading control)</text>
<text x="297.40" y="79.70" font-size="8.4" text-anchor="middle" style="fill:#858585;stroke:#858585" textLength="11.10" lengthAdjust="spacingAndGlyphs">1.0</text>
<text x="317.55" y="79.70" font-size="8.4" text-anchor="middle" style="fill:#858585;stroke:#858585" textLength="11.10" lengthAdjust="spacingAndGlyphs">0.9</text>
<text x="337.70" y="79.70" font-size="8.4" text-anchor="middle" style="fill:#858585;stroke:#858585" textLength="11.10" lengthAdjust="spacingAndGlyphs">1.0</text>
<text x="357.85" y="79.70" font-size="8.4" text-anchor="middle" style="fill:#858585;stroke:#858585" textLength="11.10" lengthAdjust="spacingAndGlyphs">0.4</text>
<text x="378.00" y="79.70" font-size="8.4" text-anchor="middle" style="fill:#858585;stroke:#858585" textLength="11.10" lengthAdjust="spacingAndGlyphs">1.0</text>
<text x="398.15" y="79.70" font-size="8.4" text-anchor="middle" style="fill:#858585;stroke:#858585" textLength="11.10" lengthAdjust="spacingAndGlyphs">0.9</text>
<text x="418.30" y="79.70" font-size="8.4" text-anchor="middle" style="fill:#858585;stroke:#858585" textLength="11.10" lengthAdjust="spacingAndGlyphs">1.0</text>
<text x="438.45" y="79.70" font-size="8.4" text-anchor="middle" style="fill:#858585;stroke:#858585" textLength="11.10" lengthAdjust="spacingAndGlyphs">0.6</text>
<text x="358.70" y="275.36" font-size="8" text-anchor="middle" font-weight="bold">*</text>
<rect x="19.60" y="432.30" width="232.70" height="130.70" fill="none" stroke="#111" stroke-width="1.1"/>
<line x1="51.30" y1="432.30" x2="51.30" y2="563.00" stroke="#111" stroke-width="1.0"/>
<line x1="89.60" y1="432.30" x2="89.60" y2="563.00" stroke="#111" stroke-width="1.0"/>
<line x1="137.30" y1="432.30" x2="137.30" y2="563.00" stroke="#111" stroke-width="1.0"/>
<line x1="175.00" y1="432.30" x2="175.00" y2="563.00" stroke="#111" stroke-width="1.0"/>
<line x1="213.40" y1="432.30" x2="213.40" y2="563.00" stroke="#111" stroke-width="1.0"/>
<line x1="19.60" y1="460.20" x2="252.30" y2="460.20" stroke="#111" stroke-width="1.0"/>
<line x1="51.30" y1="468.77" x2="252.30" y2="468.77" stroke="#111" stroke-width="1.0"/>
<line x1="19.60" y1="477.33" x2="252.30" y2="477.33" stroke="#111" stroke-width="1.0"/>
<line x1="51.30" y1="485.90" x2="252.30" y2="485.90" stroke="#111" stroke-width="1.0"/>
<line x1="19.60" y1="494.47" x2="252.30" y2="494.47" stroke="#111" stroke-width="1.0"/>
<line x1="51.30" y1="503.03" x2="252.30" y2="503.03" stroke="#111" stroke-width="1.0"/>
<line x1="19.60" y1="511.60" x2="252.30" y2="511.60" stroke="#111" stroke-width="1.0"/>
<line x1="51.30" y1="520.17" x2="252.30" y2="520.17" stroke="#111" stroke-width="1.0"/>
<line x1="19.60" y1="528.73" x2="252.30" y2="528.73" stroke="#111" stroke-width="1.0"/>
<line x1="51.30" y1="537.30" x2="252.30" y2="537.30" stroke="#111" stroke-width="1.0"/>
<line x1="19.60" y1="545.87" x2="252.30" y2="545.87" stroke="#111" stroke-width="1.0"/>
<line x1="51.30" y1="554.43" x2="252.30" y2="554.43" stroke="#111" stroke-width="1.0"/>
<text x="35.45" y="448.80" font-size="7.2" text-anchor="middle" font-weight="bold" textLength="24.50" lengthAdjust="spacingAndGlyphs">Sample</text>
<text x="70.45" y="448.80" font-size="7.2" text-anchor="middle" font-weight="bold" textLength="32.50" lengthAdjust="spacingAndGlyphs">Treatment</text>
<text x="111.95" y="441.00" font-size="7.2" text-anchor="middle" font-weight="bold" textLength="39.50" lengthAdjust="spacingAndGlyphs">CD19/ROR1</text>
<text x="132.75" y="437.80" font-size="4.5" text-anchor="middle" font-weight="bold">+</text>
<text x="113.45" y="448.60" font-size="7.2" text-anchor="middle" font-weight="bold">cells</text>
<text x="113.45" y="456.40" font-size="7.2" text-anchor="middle" font-weight="bold" textLength="31.40" lengthAdjust="spacingAndGlyphs">(Percent)</text>
<text x="156.15" y="444.60" font-size="7.2" text-anchor="middle" font-weight="bold" textLength="30.50" lengthAdjust="spacingAndGlyphs">GeoMean</text>
<text x="156.15" y="453.20" font-size="7.2" text-anchor="middle" font-weight="bold">ctr</text>
<text x="194.20" y="444.60" font-size="7.2" text-anchor="middle" font-weight="bold" textLength="30.50" lengthAdjust="spacingAndGlyphs">GeoMean</text>
<text x="194.20" y="453.20" font-size="7.2" text-anchor="middle" font-weight="bold">ROR1</text>
<text x="232.85" y="444.60" font-size="7.2" text-anchor="middle" font-weight="bold" textLength="30.50" lengthAdjust="spacingAndGlyphs">GeoMean</text>
<text x="231.65" y="453.20" font-size="7.2" text-anchor="middle" font-weight="bold">ratio</text>
<text x="241.25" y="450.00" font-size="5" text-anchor="middle" font-weight="bold">*</text>
<text x="35.45" y="471.57" font-size="7.1" text-anchor="middle">MCL#1</text>
<text x="70.45" y="467.08" font-size="7.1" text-anchor="middle">-</text>
<text x="134.10" y="467.08" font-size="7.1" text-anchor="end">97.0</text>
<text x="171.80" y="467.08" font-size="7.1" text-anchor="end">101.3</text>
<text x="210.20" y="467.08" font-size="7.1" text-anchor="end">3831.7</text>
<text x="249.10" y="467.08" font-size="7.1" text-anchor="end">37.8</text>
<text x="70.45" y="475.65" font-size="7.1" text-anchor="middle">ibrutinib</text>
<text x="134.10" y="475.65" font-size="7.1" text-anchor="end">97.4</text>
<text x="171.80" y="475.65" font-size="7.1" text-anchor="end">101.3</text>
<text x="210.20" y="475.65" font-size="7.1" text-anchor="end">3370.4</text>
<text x="249.10" y="475.65" font-size="7.1" text-anchor="end">33.3</text>
<text x="35.45" y="488.70" font-size="7.1" text-anchor="middle">MCL#4</text>
<text x="70.45" y="484.22" font-size="7.1" text-anchor="middle">-</text>
<text x="134.10" y="484.22" font-size="7.1" text-anchor="end">96.9</text>
<text x="171.80" y="484.22" font-size="7.1" text-anchor="end">100.6</text>
<text x="210.20" y="484.22" font-size="7.1" text-anchor="end">3420.4</text>
<text x="249.10" y="484.22" font-size="7.1" text-anchor="end">34.0</text>
<text x="70.45" y="492.78" font-size="7.1" text-anchor="middle">ibrutinib</text>
<text x="134.10" y="492.78" font-size="7.1" text-anchor="end">96.5</text>
<text x="171.80" y="492.78" font-size="7.1" text-anchor="end">100.6</text>
<text x="210.20" y="492.78" font-size="7.1" text-anchor="end">3224.8</text>
<text x="249.10" y="492.78" font-size="7.1" text-anchor="end">32.1</text>
<text x="35.45" y="505.83" font-size="7.1" text-anchor="middle">MCL#5</text>
<text x="70.45" y="501.35" font-size="7.1" text-anchor="middle">-</text>
<text x="134.10" y="501.35" font-size="7.1" text-anchor="end">87.7</text>
<text x="171.80" y="501.35" font-size="7.1" text-anchor="end">85.3</text>
<text x="210.20" y="501.35" font-size="7.1" text-anchor="end">1753.2</text>
<text x="249.10" y="501.35" font-size="7.1" text-anchor="end">20.6</text>
<text x="70.45" y="509.92" font-size="7.1" text-anchor="middle">ibrutinib</text>
<text x="134.10" y="509.92" font-size="7.1" text-anchor="end">86.5</text>
<text x="171.80" y="509.92" font-size="7.1" text-anchor="end">85.3</text>
<text x="210.20" y="509.92" font-size="7.1" text-anchor="end">1612.6</text>
<text x="249.10" y="509.92" font-size="7.1" text-anchor="end">18.9</text>
<text x="35.45" y="522.97" font-size="7.1" text-anchor="middle">MCL#11</text>
<text x="70.45" y="518.48" font-size="7.1" text-anchor="middle">-</text>
<text x="134.10" y="518.48" font-size="7.1" text-anchor="end">16.1</text>
<text x="171.80" y="518.48" font-size="7.1" text-anchor="end">5.8</text>
<text x="210.20" y="518.48" font-size="7.1" text-anchor="end">105.0</text>
<text x="249.10" y="518.48" font-size="7.1" text-anchor="end">18.3</text>
<text x="70.45" y="527.05" font-size="7.1" text-anchor="middle">ibrutinib</text>
<text x="134.10" y="527.05" font-size="7.1" text-anchor="end">8.2</text>
<text x="171.80" y="527.05" font-size="7.1" text-anchor="end">5.6</text>
<text x="210.20" y="527.05" font-size="7.1" text-anchor="end">67.7</text>
<text x="249.10" y="527.05" font-size="7.1" text-anchor="end">12.2</text>
<text x="35.45" y="540.10" font-size="7.1" text-anchor="middle">MCL#12</text>
<text x="70.45" y="535.62" font-size="7.1" text-anchor="middle">-</text>
<text x="134.10" y="535.62" font-size="7.1" text-anchor="end">99.0</text>
<text x="171.80" y="535.62" font-size="7.1" text-anchor="end">3.3</text>
<text x="210.20" y="535.62" font-size="7.1" text-anchor="end">157</text>
<text x="249.10" y="535.62" font-size="7.1" text-anchor="end">47.6</text>
<text x="70.45" y="544.18" font-size="7.1" text-anchor="middle">ibrutinib</text>
<text x="134.10" y="544.18" font-size="7.1" text-anchor="end">99.0</text>
<text x="171.80" y="544.18" font-size="7.1" text-anchor="end">3.2</text>
<text x="210.20" y="544.18" font-size="7.1" text-anchor="end">153</text>
<text x="249.10" y="544.18" font-size="7.1" text-anchor="end">47.8</text>
<text x="35.45" y="557.23" font-size="7.1" text-anchor="middle">MCL#14</text>
<text x="70.45" y="552.75" font-size="7.1" text-anchor="middle">-</text>
<text x="134.10" y="552.75" font-size="7.1" text-anchor="end">99.0</text>
<text x="171.80" y="552.75" font-size="7.1" text-anchor="end">4.8</text>
<text x="210.20" y="552.75" font-size="7.1" text-anchor="end">176</text>
<text x="249.10" y="552.75" font-size="7.1" text-anchor="end">36.7</text>
<text x="70.45" y="561.32" font-size="7.1" text-anchor="middle">ibrutinib</text>
<text x="134.10" y="561.32" font-size="7.1" text-anchor="end">99.0</text>
<text x="171.80" y="561.32" font-size="7.1" text-anchor="end">5.0</text>
<text x="210.20" y="561.32" font-size="7.1" text-anchor="end">165</text>
<text x="249.10" y="561.32" font-size="7.1" text-anchor="end">32.8</text>
<text x="19.80" y="571.20" font-size="5.8" textLength="110.50" lengthAdjust="spacingAndGlyphs" style="stroke-width:0">* Ratio of ROR1 GeoMean/ Control GeoMean</text>
<line x1="298.00" y1="443.00" x2="298.00" y2="534.20" stroke="#111" stroke-width="1.5"/>
<line x1="297.30" y1="533.50" x2="434.40" y2="533.50" stroke="#111" stroke-width="1.5"/>
<line x1="295.50" y1="533.50" x2="298.00" y2="533.50" stroke="#111" stroke-width="1"/>
<text x="292.00" y="536.20" font-size="7.6" text-anchor="end">0</text>
<line x1="295.50" y1="503.40" x2="298.00" y2="503.40" stroke="#111" stroke-width="1"/>
<text x="292.00" y="506.10" font-size="7.6" text-anchor="end">20</text>
<line x1="295.50" y1="473.30" x2="298.00" y2="473.30" stroke="#111" stroke-width="1"/>
<text x="292.00" y="476.00" font-size="7.6" text-anchor="end">40</text>
<line x1="295.50" y1="443.20" x2="298.00" y2="443.20" stroke="#111" stroke-width="1"/>
<text x="292.00" y="445.90" font-size="7.6" text-anchor="end">60</text>
<line x1="332.50" y1="533.50" x2="332.50" y2="537.20" stroke="#111" stroke-width="1"/>
<line x1="400.40" y1="533.50" x2="400.40" y2="537.20" stroke="#111" stroke-width="1"/>
<text x="332.50" y="548.00" font-size="7.6" text-anchor="middle">-</text>
<text x="400.40" y="548.20" font-size="7.6" text-anchor="middle">+</text>
<text x="366.50" y="561.60" font-size="9.8" text-anchor="middle" textLength="25.40" lengthAdjust="spacingAndGlyphs" style="stroke-width:0.42px">Ibrutinib</text>
<text x="276.70" y="486.80" font-size="9.2" text-anchor="middle" textLength="45.00" lengthAdjust="spacingAndGlyphs" transform="rotate(-90 276.70 486.80)" style="stroke-width:0.42px">GeoMean ratio</text>
<line x1="310.30" y1="484.70" x2="355.20" y2="484.70" stroke="#111" stroke-width="1.45"/>
<line x1="332.60" y1="468.30" x2="332.60" y2="501.90" stroke="#111" stroke-width="1.45"/>
<line x1="321.60" y1="468.30" x2="343.80" y2="468.30" stroke="#111" stroke-width="1.45"/>
<line x1="321.60" y1="501.90" x2="343.80" y2="501.90" stroke="#111" stroke-width="1.45"/>
<circle cx="332.6" cy="462.2" r="2.25" fill="#9e0f30"/>
<circle cx="332.9" cy="476.6" r="2.25" fill="#9e0f30"/>
<circle cx="329.6" cy="478.3" r="2.25" fill="#9e0f30"/>
<circle cx="335.1" cy="482.5" r="2.25" fill="#9e0f30"/>
<circle cx="335.2" cy="502.6" r="2.25" fill="#9e0f30"/>
<circle cx="329.8" cy="506.2" r="2.25" fill="#9e0f30"/>
<line x1="378.00" y1="489.30" x2="423.20" y2="489.30" stroke="#111" stroke-width="1.45"/>
<line x1="400.40" y1="470.70" x2="400.40" y2="508.40" stroke="#111" stroke-width="1.45"/>
<line x1="389.20" y1="470.70" x2="412.00" y2="470.70" stroke="#111" stroke-width="1.45"/>
<line x1="389.20" y1="508.40" x2="412.00" y2="508.40" stroke="#111" stroke-width="1.45"/>
<rect x="398.15" y="459.85" width="4.30" height="4.30" fill="#2b4870"/>
<rect x="392.55" y="481.75" width="4.30" height="4.30" fill="#2b4870"/>
<rect x="398.15" y="483.15" width="4.30" height="4.30" fill="#2b4870"/>
<rect x="403.75" y="482.25" width="4.30" height="4.30" fill="#2b4870"/>
<rect x="398.15" y="503.25" width="4.30" height="4.30" fill="#2b4870"/>
<rect x="398.15" y="513.45" width="4.30" height="4.30" fill="#2b4870"/>
<path d="M332.6 454.8 V449.0 H400.4 V454.8" fill="none" stroke="#222" stroke-width="1.25"/>
<text x="366.60" y="447.68" font-size="7.5" text-anchor="middle" font-weight="bold">*</text>
<rect x="0" y="0" width="520" height="1.2" fill="#000"/>
<rect x="0" y="0" width="1.5" height="580" fill="#000"/>
<rect x="518.5" y="0" width="1.5" height="580" fill="#000"/>
<rect x="0" y="578.3" width="520" height="1.7" fill="#000"/>
</svg></div></body></html>
